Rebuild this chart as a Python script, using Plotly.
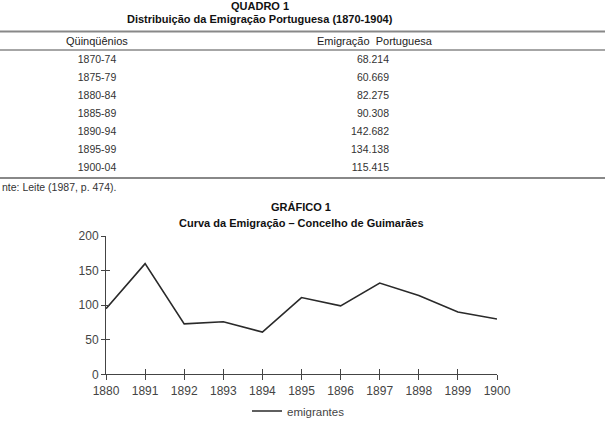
import plotly.graph_objects as go

# ---- data ----
periods = ["1870-74", "1875-79", "1880-84", "1885-89", "1890-94", "1895-99", "1900-04"]
emigration = ["68.214", "60.669", "82.275", "90.308", "142.682", "134.138", "115.415"]
years = ["1880", "1891", "1892", "1893", "1894", "1895", "1896", "1897", "1898", "1899", "1900"]
emigrantes = [95, 160, 73, 76, 61, 111, 99, 132, 114, 90, 80]
y_ticks = [0, 50, 100, 150, 200]

W, H = 605, 423
def px(x):
    return x / W
def py(y):
    return 1 - y / H

FONT = "Liberation Sans, Arial, sans-serif"
NARROW = "Liberation Sans Narrow, Liberation Sans, Arial, sans-serif"
AX = "#444444"
TXT = "#333333"

fig = go.Figure()

# main line
fig.add_trace(go.Scatter(
    x=years, y=emigrantes, mode="lines", name="emigrantes",
    line=dict(color="#2a2a2a", width=1.6), xaxis="x", yaxis="y",
    hoverinfo="x+y"))

# table text through hidden axes
fig.add_trace(go.Scatter(
    x=[97] * len(periods), y=periods, text=periods, mode="text",
    textposition="middle center", textfont=dict(family=FONT, size=10.5, color=TXT),
    xaxis="x2", yaxis="y2", showlegend=False, hoverinfo="skip"))
fig.add_trace(go.Scatter(
    x=[389] * len(periods), y=periods, text=emigration, mode="text",
    textposition="middle left", textfont=dict(family=FONT, size=10.5, color=TXT),
    xaxis="x2", yaxis="y2", showlegend=False, hoverinfo="skip"))

xdom = [px(106), px(497)]
ydom = [py(374.3), py(236)]

fig.update_layout(
    width=W, height=H, margin=dict(l=0, r=0, t=0, b=0, autoexpand=False),
    paper_bgcolor="white", plot_bgcolor="white",
    font=dict(family=FONT, color=TXT),
    xaxis=dict(domain=xdom, anchor="y", type="category", range=[0, 10],
               showline=True, linecolor=AX, linewidth=1, showgrid=False, zeroline=False,
               ticks="outside", ticklen=5, tickcolor=AX, tickwidth=1,
               tickfont=dict(family=FONT, size=12, color="#444444")),
    yaxis=dict(domain=ydom, anchor="x", range=[0, 200], tickvals=y_ticks,
               showline=True, linecolor=AX, linewidth=1, showgrid=False, zeroline=False,
               ticks="outside", ticklen=4, tickcolor=AX, tickwidth=1,
               tickfont=dict(family=FONT, size=12, color="#444444")),
    xaxis3=dict(domain=xdom, anchor="y3", overlaying="x", type="category", range=[0, 10],
                categoryarray=years, tickvals=years,
                showline=False, showgrid=False, zeroline=False, showticklabels=False,
                ticks="inside", ticklen=5, tickcolor=AX, tickwidth=1),
    yaxis3=dict(domain=ydom, anchor="x3", overlaying="y", range=[0, 200], tickvals=y_ticks,
                showline=False, showgrid=False, zeroline=False, showticklabels=False,
                ticks="inside", ticklen=4, tickcolor=AX, tickwidth=1),
    xaxis2=dict(domain=[0, 1], anchor="y2", range=[0, W], visible=False, fixedrange=True),
    yaxis2=dict(domain=[py(177), py(51)], anchor="x2", type="category",
                categoryarray=periods, range=[6.5, -0.5], visible=False, fixedrange=True),
    showlegend=True,
    legend=dict(orientation="h", x=px(247), y=py(411), xanchor="left", yanchor="middle",
                font=dict(family=FONT, size=11.5, color="#444444"),
                bgcolor="rgba(0,0,0,0)", borderwidth=0),
)

# same series on the overlay axes (invisible) so the inside tick marks are drawn
fig.add_trace(go.Scatter(x=years, y=emigrantes, mode="lines", line=dict(width=0),
                         xaxis="x3", yaxis="y3", showlegend=False, hoverinfo="skip",
                         opacity=0))

ann = []
def text(x, y, s, size, bold=False, family=FONT, color=TXT, xanchor="center"):
    ann.append(dict(x=px(x), y=py(y), xref="paper", yref="paper", text=(f"<b>{s}</b>" if bold else s),
                    showarrow=False, xanchor=xanchor, yanchor="middle",
                    font=dict(family=family, size=size, color=color)))

text(260, 6.5, "QUADRO 1", 11, True, NARROW, "#111111")
text(260, 19, "Distribuição da Emigração Portuguesa (1870-1904)", 11, True, NARROW, "#111111")
text(97, 41, "Qüinqüênios", 11, False, FONT, "#222222")
text(375, 41, "Emigração&nbsp;&nbsp;Portuguesa", 11, False, FONT, "#222222")
text(0, 187, "nte: Leite (1987, p. 474).", 10.5, False, FONT, TXT, xanchor="left")
text(301, 207, "GRÁFICO 1", 11, True, FONT, "#111111")
text(301, 223, "Curva da Emigração – Concelho de Guimarães", 11, True, FONT, "#111111")
fig.update_layout(annotations=ann)

shapes = []
for y, w in [(31.5, 2), (50, 1.5), (178, 2)]:
    shapes.append(dict(type="line", xref="paper", yref="paper", x0=0, x1=1, y0=py(y), y1=py(y),
                       line=dict(color="#888888", width=w)))
fig.update_layout(shapes=shapes)

fig.write_html("out.html")
